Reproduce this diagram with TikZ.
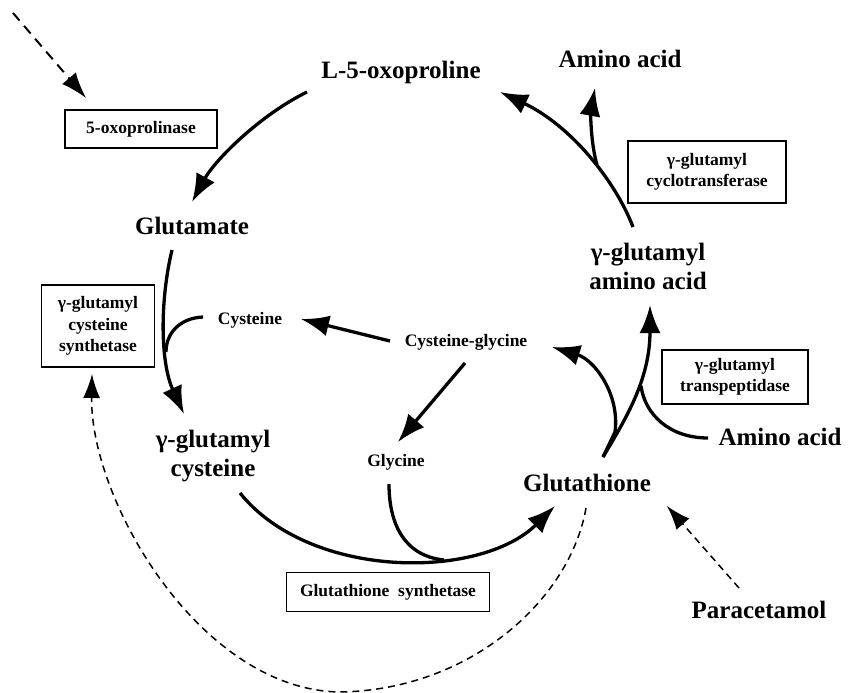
\documentclass[tikz,border=0pt]{standalone}
\usepackage{fontspec}
\setmainfont{Liberation Serif}
\usetikzlibrary{arrows.meta}
\begin{document}
\begin{tikzpicture}[x=1pt,y=-1pt,
  big/.style={font=\fontsize{25}{29}\selectfont\bfseries, align=center, inner sep=0pt},
  small/.style={font=\fontsize{17.5}{21.5}\selectfont\bfseries, align=center, inner sep=0pt},
  enz/.style={small, draw, line width=1.3pt},
  flow/.style={line width=3.3pt, -{Latex[length=28pt,width=21pt]}},
  plainline/.style={line width=3.3pt},
  dashflow/.style={line width=1.5pt, dash pattern=on 7pt off 5pt, -{Latex[length=24pt,width=17pt]}},
  dashflowthick/.style={line width=2pt, dash pattern=on 10pt off 7pt, -{Latex[length=26pt,width=18pt]}}]
\useasboundingbox (0,0) rectangle (851,693);

% labels
\node[big] (oxo) at (401,72) {L-5-oxoproline};
\node[big] (aa1) at (620,59) {Amino acid};
\node[enz, minimum width=152pt, minimum height=38pt] (oxoase) at (141,129) {5-oxoprolinase};
\node[big] (glu) at (192,226) {Glutamate};
\node[enz, minimum width=113pt, minimum height=82pt] (gcs) at (98,326) {γ-glutamyl\\cysteine\\synthetase};
\node[small] (cys) at (250,320) {Cysteine};
\node[small] (cysgly) at (466,342) {Cysteine-glycine};
\node[big] (ggc) at (213,456) {γ-glutamyl\\cysteine};
\node[small] (gly) at (396,462) {Glycine};
\node[big] (gsh) at (587,483) {Glutathione};
\node[big] (aa2) at (780,437) {Amino acid};
\node[big] (para) at (759,610) {Paracetamol};
\node[enz, minimum width=203pt, minimum height=39pt] (gss) at (388,592) {Glutathione\ \ synthetase};
\node[enz, minimum width=158pt, minimum height=62pt] (gct) at (707,172) {γ-glutamyl\\cyclotransferase};
\node[big] (gaa) at (648,266) {γ-glutamyl\\amino acid};
\node[enz, minimum width=146pt, minimum height=54pt] (ggt) at (735,377) {γ-glutamyl\\transpeptidase};

% connector end points
\coordinate (oxoOut) at (307,92);
\coordinate (gluIn) at (192,202);
\coordinate (gaaOut) at (633,227);
\coordinate (oxoIn) at (500,92);
\coordinate (jTop) at (597,165);
\coordinate (aa1In) at (595,88);
\coordinate (gluOut) at (172,250);
\coordinate (ggcIn) at (184,414);
\coordinate (cysOut) at (203,317);
\coordinate (jCys) at (166,352);
\coordinate (cgOut1) at (390,341);
\coordinate (cysIn) at (301,319);
\coordinate (cgOut2) at (465,363);
\coordinate (glyIn) at (398,442);
\coordinate (ggcOut) at (240,493);
\coordinate (gshIn) at (555,506);
\coordinate (glyOut) at (389,484);
\coordinate (jGly) at (444,560);
\coordinate (gshOut) at (603,457);
\coordinate (jGsh) at (615,432);
\coordinate (cgIn) at (552,347);
\coordinate (gaaIn) at (650,305);
\coordinate (aa2Out) at (708,438);
\coordinate (jAA) at (641,386);
\coordinate (gshDash) at (586,508);
\coordinate (dashLow) at (340,692);
\coordinate (gcsIn) at (92,374);
\coordinate (paraOut) at (739,588);
\coordinate (gshIn2) at (667,506);
\coordinate (topStart) at (13,13);
\coordinate (oxoaseIn) at (86,98);

% solid connectors
\draw[flow] (oxoOut) .. controls (260,115) and (215,160) .. (gluIn);
\draw[flow] (gaaOut) .. controls (615,180) and (570,125) .. (oxoIn);
\draw[flow] (jTop) .. controls (590,140) and (591,110) .. (aa1In);
\draw[flow] (gluOut) .. controls (160,300) and (160,362) .. (ggcIn);
\draw[plainline] (cysOut) .. controls (180,318) and (166,333) .. (jCys);
\draw[flow] (cgOut1) -- (cysIn);
\draw[flow] (cgOut2) -- (glyIn);
\draw[flow] (ggcOut) .. controls (310,580) and (480,580) .. (gshIn);
\draw[plainline] (glyOut) .. controls (389,525) and (405,556) .. (jGly);
\draw[flow] (gshOut) -- (jGsh) .. controls (620,395) and (595,360) .. (cgIn);
\draw[flow] (gshOut) .. controls (625,420) and (650,380) .. (gaaIn);
\draw[plainline] (aa2Out) .. controls (670,438) and (645,415) .. (jAA);

% dashed connectors
\draw[dashflow] (gshDash) .. controls (570,600) and (470,690) .. (dashLow)
  .. controls (200,690) and (90,500) .. (gcsIn);
\draw[dashflow] (paraOut) -- (gshIn2);
\draw[dashflowthick] (topStart) -- (oxoaseIn);
\end{tikzpicture}
\end{document}
